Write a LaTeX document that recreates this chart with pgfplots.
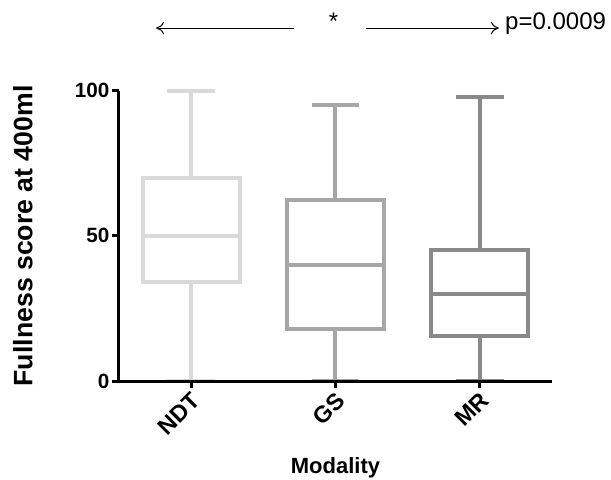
\documentclass[border=0pt]{standalone}
\usepackage{fontspec}
\setmainfont{Liberation Sans}
\usepackage{pgfplots}
\pgfplotsset{compat=1.18}
\usepgfplotslibrary{statistics}
\usetikzlibrary{arrows.meta}

\definecolor{ndtgray}{RGB}{217,217,217}
\definecolor{gsgray}{RGB}{166,166,166}
\definecolor{mrgray}{RGB}{137,137,137}

\begin{document}
\begin{tikzpicture}
\useasboundingbox (-89.25pt,-73.5pt) rectangle (369pt,285.75pt);
\begin{axis}[
  at={(0pt,0pt)}, anchor=south west,
  scale only axis,
  width=324.75pt, height=217.7pt,
  xmin=-0.5, xmax=2.5,
  ymin=0, ymax=100,
  clip=false,
  axis on top,
  axis x line=bottom, axis y line=left,
  axis line style={line width=2.25pt, -},
  every tick/.style={line width=2.25pt, black},
  tick align=outside,
  major tick length=5pt,
  xtick={0,1,2},
  xticklabels={NDT,GS,MR},
  ytick={0,50,100},
  /pgf/number format/assume math mode=true,
  yticklabel style={font=\bfseries\fontsize{15.5}{15.5}\selectfont, inner sep=2pt},
  xticklabel style={font=\bfseries\fontsize{17.5}{17.5}\selectfont,
    rotate=45, anchor=north east, inner sep=1pt, xshift=-1pt},
  ylabel={Fullness score at 400ml},
  ylabel style={at={(axis description cs:-0.222,0.5)}, anchor=center,
    font=\bfseries\fontsize{20}{20}\selectfont},
  xlabel={Modality},
  xlabel style={at={(axis description cs:0.5,-0.30)}, anchor=center,
    font=\bfseries\fontsize{16.5}{16.5}\selectfont},
  boxplot/draw direction=y,
  boxplot/box extend=0.67,
  boxplot/whisker extend=0.33,
]
% Fullness score at 400ml, one box per modality
\addplot[draw=ndtgray, line width=3pt, solid,
  boxplot prepared={draw position=0,
    lower whisker=0, lower quartile=34, median=50,
    upper quartile=70, upper whisker=100}] coordinates {};
\addplot[draw=gsgray, line width=3pt, solid,
  boxplot prepared={draw position=1,
    lower whisker=0, lower quartile=18, median=40,
    upper quartile=62.5, upper whisker=95}] coordinates {};
\addplot[draw=mrgray, line width=3pt, solid,
  boxplot prepared={draw position=2,
    lower whisker=0, lower quartile=15.5, median=30,
    upper quartile=45, upper whisker=98}] coordinates {};

% significance annotation above the boxes
\draw[line width=0.75pt, -{To[length=6pt,width=9.5pt]}]
  (axis cs:0.715,121.6) -- (axis cs:-0.243,121.6);
\draw[line width=0.75pt, -{To[length=6pt,width=9.5pt]}]
  (axis cs:1.208,121.6) -- (axis cs:2.132,121.6);
\node[font=\fontsize{18}{18}\selectfont, anchor=center, inner sep=0pt]
  at (axis cs:0.986,124.0) {*};
\node[font=\fontsize{18}{18}\selectfont, anchor=base west, inner sep=0pt]
  at (axis cs:2.174,121.25) {p=0.0009};
\end{axis}
\end{tikzpicture}
\end{document}
